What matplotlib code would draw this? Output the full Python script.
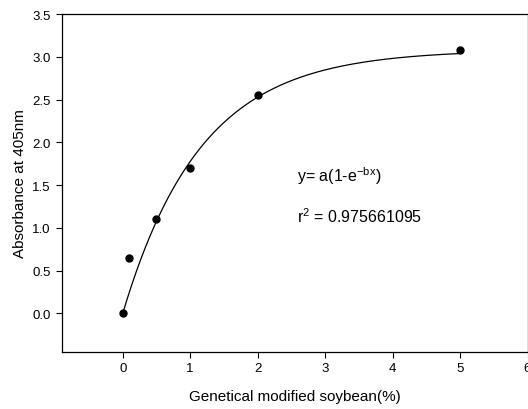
import numpy as np
import matplotlib
matplotlib.use("Agg")
import matplotlib.pyplot as plt

plt.rcParams["font.family"] = ["Liberation Sans", "DejaVu Sans"]

# measured points
gmo_pct = np.array([0.0, 0.1, 0.5, 1.0, 2.0, 5.0])
absorbance = np.array([0.0, 0.65, 1.10, 1.70, 2.55, 3.08])

x_ticks = [0, 1, 2, 3, 4, 5, 6]
y_ticks = [0.0, 0.5, 1.0, 1.5, 2.0, 2.5, 3.0, 3.5]

# fitted curve parameters
a_fit = 3.08
b_fit = 0.86


def model(x, a, b):
    return a * (1 - np.exp(-b * x))


xs = np.linspace(0, 5, 300)

fig = plt.figure(figsize=(5.28, 4.10), dpi=100)
ax = fig.add_axes([62 / 528, 1 - 353 / 410, (527.5 - 62) / 528, (353 - 15) / 410])

ax.plot(xs, model(xs, a_fit, b_fit), color="black", lw=0.9)
ax.plot(gmo_pct, absorbance, "o", color="black", ms=5)

ax.set_xlim(-0.9, 6)
ax.set_ylim(-0.45, 3.5)
ax.set_xticks(x_ticks)
ax.set_xticklabels([str(t) for t in x_ticks])
ax.set_yticks(y_ticks)
ax.set_yticklabels(["%.1f" % t for t in y_ticks])
ax.tick_params(direction="out", length=4, width=0.8, labelsize=9.5, pad=4)
ax.tick_params(axis="x", pad=3)
for s in ax.spines.values():
    s.set_linewidth(0.9)

ax.set_xlabel("Genetical modified soybean(%)", fontsize=11, labelpad=11)
ax.set_ylabel("Absorbance at 405nm", fontsize=11, labelpad=4)

ax.text(2.58, 1.62, r"y= a(1-e$^{\mathregular{-bx}}$)", fontsize=11.5, va="center")
ax.text(2.58, 1.14, r"r$^{\mathregular{2}}$ = 0.975661095", fontsize=11.5, va="center")

fig.savefig("out.png", dpi=100)
